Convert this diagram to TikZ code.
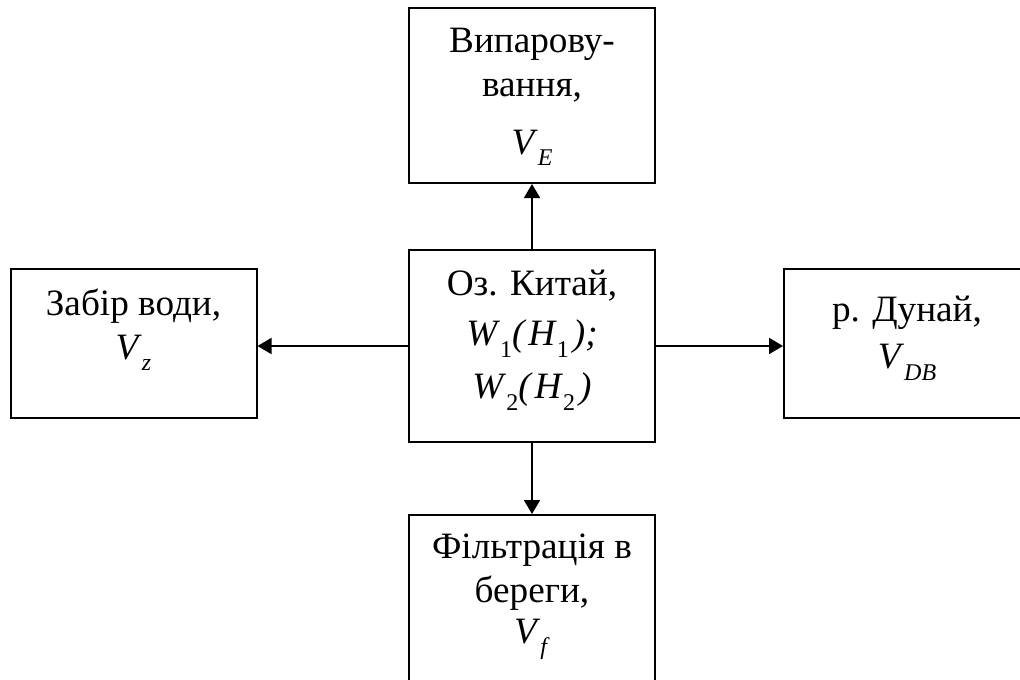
\documentclass[tikz,border=0pt]{standalone}
\usepackage{fontspec}
\setmainfont{Liberation Serif}
\usetikzlibrary{arrows.meta, positioning}

\newcommand{\vsub}[2]{\textit{#1}\raisebox{-0.3em}{\fontsize{12}{12}\selectfont #2}}
\newcommand{\fst}{\rule{0pt}{12pt}}

\tikzset{
  blk/.style={draw, line width=1pt, inner sep=0pt, minimum width=123pt},
  txt/.style={inner sep=0pt, anchor=north, align=center, font=\fontsize{18.6}{22}\selectfont},
  flow/.style={line width=0.9pt, -{Triangle[length=7pt,width=8pt]}}
}

\begin{document}
\begin{tikzpicture}[x=0.5pt,y=-0.5pt]
\useasboundingbox (0,0) rectangle (1020,679);
\clip (0,0) rectangle (1020,679);
%boxes
\node[blk, minimum height=96pt] (lake) at (532,346) {};
\node[blk, minimum height=87.5pt] (evap) at (532,95.5) {};
\node[blk, minimum height=74.5pt] (take) at (133.5,343.5) {};
\node[blk, minimum height=74.5pt] (dan) at (907,343.5) {};
\node[blk, minimum height=92.5pt] (filt) at (532,607.5) {};
%texts
\node[txt, below=10.5pt of lake.north] (lakeT) {\fst Оз. Китай,\\[3pt]
  \vsub{W}{1}\textit{(\kern2pt H}\raisebox{-0.3em}{\fontsize{12}{12}\selectfont 1}\textit{\kern2pt);}\\[4.5pt]
  \vsub{W}{2}\textit{(\kern2pt H}\raisebox{-0.3em}{\fontsize{12}{12}\selectfont 2}\textit{\kern2pt)}};
\node[txt, below=10.5pt of evap.north] (evapT) {\fst Випарову-\\вання,\\[7pt]\vsub{V}{\textit{E}}};
\node[txt, below=10pt of take.north] (takeT) {\fst Забір води,\\\vsub{V}{\textit{z}}};
\node[txt, below=14pt of dan.north] (danT) {\fst р. Дунай,\\[1.5pt]\vsub{V}{\textit{DB}}};
\node[txt, below=9.5pt of filt.north] (filtT) {\fst Фільтрація в\\береги,\\[-1.5pt]\vsub{V}{\textit{f}}};
%arrows
\draw[flow] (lake.north) -- (evap.south);
\draw[flow] (lake.south) -- (filt.north);
\draw[flow] (lake.west) -- (lake.west -| take.east);
\draw[flow] (lake.east) -- (lake.east -| dan.west);
\end{tikzpicture}
\end{document}
